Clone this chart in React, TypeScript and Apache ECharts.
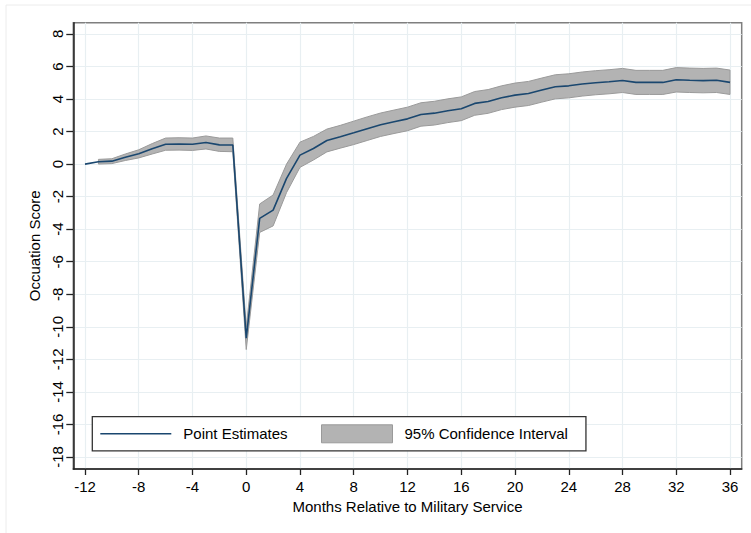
import React, { useEffect, useRef } from "react";
import * as echarts from "echarts";

// Months relative to the start of military service
const months = [
  -12, -11, -10, -9, -8, -7, -6, -5, -4, -3, -2, -1, 0, 1, 2, 3, 4, 5, 6, 7, 8, 9,
  10, 11, 12, 13, 14, 15, 16, 17, 18, 19, 20, 21, 22, 23, 24, 25, 26, 27, 28, 29,
  30, 31, 32, 33, 34, 35, 36,
];

// Point estimates of the occupation score
const estimates = [
  0, 0.14, 0.18, 0.42, 0.63, 0.94, 1.22, 1.23, 1.22, 1.33, 1.18, 1.17, -10.7,
  -3.34, -2.83, -0.88, 0.55, 0.96, 1.45, 1.68, 1.92, 2.17, 2.42, 2.6, 2.78, 3.05,
  3.13, 3.28, 3.4, 3.73, 3.85, 4.08, 4.24, 4.34, 4.55, 4.75, 4.81, 4.92, 5.0,
  5.06, 5.14, 5.02, 5.02, 5.02, 5.18, 5.15, 5.13, 5.15, 5.02,
];

// 95% confidence bounds (the reference month -12 has no interval)
const ciMonths = [
  -11, -10, -9, -8, -7, -6, -5, -4, -3, -2, -1, 0, 1, 2, 3, 4, 5, 6, 7, 8, 9, 10,
  11, 12, 13, 14, 15, 16, 17, 18, 19, 20, 21, 22, 23, 24, 25, 26, 27, 28, 29, 30,
  31, 32, 33, 34, 35, 36,
];
const ciLower = [
  0.0, 0.03, 0.22, 0.38, 0.62, 0.85, 0.86, 0.84, 0.93, 0.78, 0.76, -11.4, -4.2,
  -3.8, -1.75, -0.2, 0.25, 0.75, 0.98, 1.2, 1.45, 1.7, 1.88, 2.05, 2.33, 2.4,
  2.55, 2.67, 3.0, 3.12, 3.35, 3.5, 3.6, 3.81, 4.01, 4.07, 4.18, 4.26, 4.32, 4.4,
  4.28, 4.28, 4.28, 4.43, 4.4, 4.38, 4.4, 4.28,
];
const ciUpper = [
  0.29, 0.33, 0.62, 0.88, 1.26, 1.6, 1.62, 1.6, 1.73, 1.6, 1.6, -10.0, -2.45,
  -1.9, 0.0, 1.35, 1.7, 2.15, 2.38, 2.64, 2.9, 3.14, 3.32, 3.5, 3.77, 3.86, 4.01,
  4.13, 4.46, 4.58, 4.81, 4.98, 5.08, 5.29, 5.49, 5.55, 5.66, 5.74, 5.8, 5.88,
  5.76, 5.76, 5.76, 5.93, 5.9, 5.88, 5.9, 5.78,
];

// Tick labels
const xTicks = [-12, -8, -4, 0, 4, 8, 12, 16, 20, 24, 28, 32, 36];
const yTicks = [-18, -16, -14, -12, -10, -8, -6, -4, -2, 0, 2, 4, 6, 8];

const FONT = "'Liberation Sans', Arial, Helvetica, sans-serif";
const NAVY = "#1a476f";
const BAND = "#b3b3b3";
const BAND_EDGE = "#9a9a9a";

// Legend glyph: a thin horizontal bar centred in the icon box
const LINE_ICON =
  "path://M0,0 L0.01,0 L0.01,0.01 Z M0,8.2 L71,8.2 L71,9.8 L0,9.8 Z M0,18 L0.01,18 L0.01,17.99 Z";

export default function App() {
  const ref = useRef<HTMLDivElement>(null);

  useEffect(() => {
    if (!ref.current) return;
    const chart = echarts.init(ref.current, undefined, { renderer: "svg" });

    const lineData = months.map((m, i) => [m, estimates[i]]);
    const bandData = ciMonths.map((m, i) => [m, ciLower[i], ciUpper[i]]);

    // The whole interval is one polygon: upper bound left→right, lower bound back.
    const renderBand = (params: any, api: any) => {
      if (params.dataIndexInside !== 0) return null;
      const upper: number[][] = [];
      const lower: number[][] = [];
      for (let i = 0; i < bandData.length; i++) {
        const [m, lo, hi] = bandData[i];
        upper.push(api.coord([m, hi]));
        lower.push(api.coord([m, lo]));
      }
      const points = upper.concat(lower.reverse());
      return {
        type: "polygon",
        shape: { points },
        style: { fill: BAND, stroke: BAND_EDGE, lineWidth: 1 },
        silent: true,
      };
    };

    chart.setOption({
      animation: false,
      backgroundColor: "#ffffff",
      textStyle: { fontFamily: FONT },
      graphic: [
        {
          type: "rect",
          shape: { x: 6, y: 5, width: 800, height: 600 },
          style: { fill: "none", stroke: "#ececec", lineWidth: 1 },
          silent: true,
          z: -10,
        },
      ],
      grid: {
        left: 73.3,
        right: 9.3,
        top: 22.7,
        bottom: 64,
        show: true,
        borderColor: "#7f7f7f",
        borderWidth: 1.5,
        backgroundColor: "#ffffff",
      },
      legend: {
        left: 92.3,
        top: 416.7,
        orient: "horizontal",
        backgroundColor: "#ffffff",
        borderColor: "#333333",
        borderWidth: 1.3,
        borderRadius: 0,
        padding: [7.6, 18, 7.6, 8],
        itemWidth: 71,
        itemHeight: 18,
        itemGap: 33.5,
        textStyle: {
          fontFamily: FONT,
          fontSize: 15,
          color: "#000000",
          padding: [0, 0, 0, 7],
        },
        data: [
          {
            name: "Point Estimates",
            icon: LINE_ICON,
            itemStyle: { color: NAVY, borderWidth: 0 },
          },
          {
            name: "95% Confidence Interval",
            icon: "rect",
            itemStyle: { color: BAND, borderColor: BAND_EDGE, borderWidth: 1 },
          },
        ],
        selectedMode: false,
        z: 10,
      },
      xAxis: {
        type: "value",
        min: -12.87,
        max: 36.87,
        name: "Months Relative to Military Service",
        nameLocation: "middle",
        nameGap: 25,
        nameTextStyle: { fontFamily: FONT, fontSize: 15, color: "#000000" },
        axisLine: { show: true, onZero: false, lineStyle: { color: "#222222", width: 1.5 } },
        axisTick: {
          show: true,
          length: 6,
          customValues: xTicks,
          lineStyle: { color: "#222222", width: 1.3 },
        },
        axisLabel: {
          customValues: xTicks,
          margin: 10,
          fontFamily: FONT,
          fontSize: 15,
          color: "#000000",
        },
        splitLine: { show: true, lineStyle: { color: "#e8eff2", width: 1.2 } },
      },
      yAxis: {
        type: "value",
        min: -18.74,
        max: 8.69,
        name: "Occuation Score",
        nameLocation: "middle",
        nameGap: 29,
        nameTextStyle: { fontFamily: FONT, fontSize: 15, color: "#000000" },
        axisLine: { show: true, onZero: false, lineStyle: { color: "#222222", width: 1.5 } },
        axisTick: {
          show: true,
          length: 7,
          customValues: yTicks,
          lineStyle: { color: "#222222", width: 1.3 },
        },
        axisLabel: {
          customValues: yTicks,
          rotate: 90,
          margin: 8,
          fontFamily: FONT,
          fontSize: 15,
          color: "#000000",
        },
        splitLine: { show: true, lineStyle: { color: "#e8eff2", width: 1.2 } },
      },
      series: [
        {
          name: "95% Confidence Interval",
          type: "custom",
          data: bandData,
          encode: { x: 0, y: [1, 2] },
          renderItem: renderBand,
          itemStyle: { color: BAND },
          clip: true,
          silent: true,
          z: 2,
        },
        {
          name: "Point Estimates",
          type: "line",
          data: lineData,
          symbol: "none",
          showSymbol: false,
          lineStyle: { color: NAVY, width: 1.6 },
          itemStyle: { color: NAVY },
          z: 3,
        },
      ],
    });

    return () => chart.dispose();
  }, []);

  return (
    <div
      ref={ref}
      style={{ position: "fixed", left: 0, top: 0, width: 751, height: 533 }}
    />
  );
}
